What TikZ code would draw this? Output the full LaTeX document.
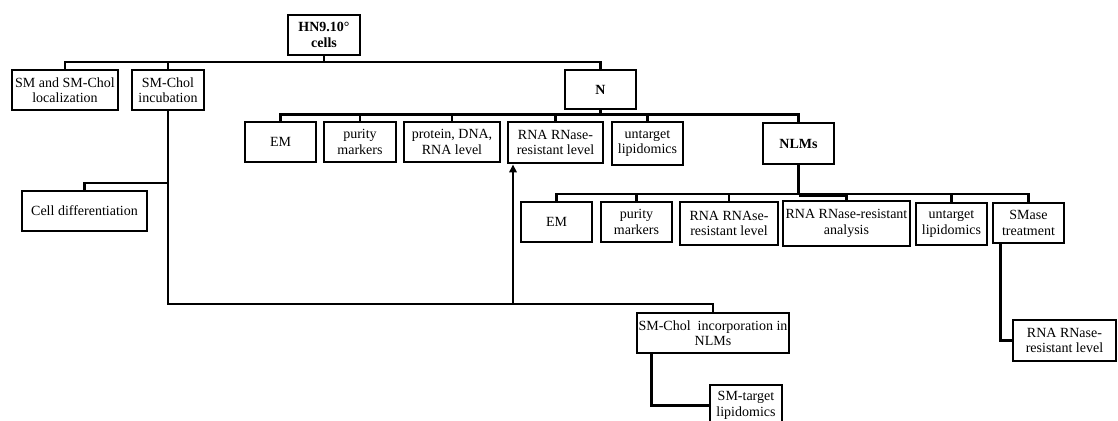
\documentclass[tikz,border=0pt]{standalone}
\usepackage{fontspec}
\setmainfont{Liberation Serif}
\usetikzlibrary{arrows.meta}
\begin{document}
\begin{tikzpicture}[x=0.75pt,y=-0.75pt,
  box/.style={draw, line width=2.1pt, align=center, inner sep=0pt, fill=white,
    font=\fontsize{10.5}{11.5}\selectfont},
  bbox/.style={box, font=\fontsize{10.5}{11.5}\selectfont\bfseries},
  conn/.style={line width=1.7pt},
]
\useasboundingbox (0,0) rectangle (1118,421);

% level 0
\node[bbox, minimum width=54pt, minimum height=30pt] (hn) at (324,35) {HN9.10°\\cells};
% level 1
\node[box, minimum width=79.5pt, minimum height=30pt] (loc) at (65,90) {SM and SM-Chol\\localization};
\node[box, minimum width=54pt, minimum height=30pt] (inc) at (168,90) {SM-Chol\\incubation};
\node[bbox, minimum width=53.25pt, minimum height=29.25pt] (N) at (600.5,89.5) {N};
% children of N
\node[box, minimum width=53.25pt, minimum height=30pt] (em1) at (280.5,142) {EM};
\node[box, minimum width=54pt, minimum height=30pt] (pur1) at (360,142) {purity\\markers};
\node[box, minimum width=72pt, minimum height=30pt] (prot) at (452,142) {protein, DNA,\\RNA level};
\node[box, minimum width=71.25pt, minimum height=30.75pt] (rna1) at (555.5,142.5) {RNA RNase-\\resistant level};
\node[box, minimum width=53.25pt, minimum height=32.25pt] (unt1) at (647.5,143.5) {untarget\\lipidomics};
\node[bbox, minimum width=53.25pt, minimum height=30.75pt] (nlm) at (798.5,143.5) {NLMs};
% cell differentiation
\node[box, minimum width=93.75pt, minimum height=30pt] (cd) at (84.5,211) {Cell differentiation};
% children of NLMs
\node[box, minimum width=53.25pt, minimum height=30pt] (em2) at (556.5,222) {EM};
\node[box, minimum width=53.25pt, minimum height=30pt] (pur2) at (636.5,222) {purity\\markers};
\node[box, minimum width=73.5pt, minimum height=32.25pt] (rna2) at (729,223.5) {RNA RNAse-\\resistant level};
\node[box, minimum width=95.25pt, minimum height=33.75pt] (rnaa) at (846.5,223.5) {RNA RNase-resistant\\analysis};
\node[box, minimum width=53.25pt, minimum height=31.5pt] (unt2) at (951.5,224) {untarget\\lipidomics};
\node[box, minimum width=53.25pt, minimum height=30pt] (smase) at (1028.5,223) {SMase\\treatment};
\node[box, minimum width=77.25pt, minimum height=30.75pt] (rna3) at (1064.5,340.5) {RNA RNase-\\resistant level};
% lower branch
\node[box, minimum width=114pt, minimum height=30pt] (inco) at (713,333) {SM-Chol\ \ incorporation in\\NLMs};
\node[box, minimum width=54pt, minimum height=30.75pt] (smt) at (746,405.5) {SM-target\\lipidomics};

% bus coordinates
\coordinate (b1) at (0,62);
\coordinate (b2) at (0,114.5);
\coordinate (b3) at (0,194);
\coordinate (b4) at (0,304);
\coordinate (b5) at (0,183);
\coordinate (ar) at (513,304);

% top level tree
\draw[conn] (hn.south) -- (hn.south|-b1);
\draw[conn] (loc.north) -- (loc.north|-b1) -| (N.north);
\draw[conn] (inc.north) -- (inc.north|-b1);

% N tree
\draw[conn] (N.south) -- (N.south|-b2);
\draw[conn] (em1.north) -- (em1.north|-b2) -| (nlm.north);
\draw[conn] (pur1.north) -- (pur1.north|-b2);
\draw[conn] (prot.north) -- (prot.north|-b2);
\draw[conn] (rna1.north) -- (rna1.north|-b2);
\draw[conn] (unt1.north) -- (unt1.north|-b2);

% NLMs tree
\draw[conn] (nlm.south) -- (nlm.south|-b3);
\draw[conn] (em2.north) -- (em2.north|-b3) -| (smase.north);
\draw[conn] (pur2.north) -- (pur2.north|-b3);
\draw[conn] (rna2.north) -- (rna2.north|-b3);
\draw[conn] (rnaa.north) -- (rnaa.north|-b3);
\draw[conn] (unt2.north) -- (unt2.north|-b3);
\draw[line width=2.6pt] ([yshift=-0.6pt]nlm.south|-b3) -- ([yshift=-0.6pt]rnaa.north|-b3);

% incubation branch
\draw[conn] (inc.south) -- (inc.south|-b4) -| (inco.north);
\draw[conn] (inc.south|-b5) -| (cd.north);
\draw[conn, -{Triangle[length=6pt,width=5.5pt]}] (ar) -- (ar|-rna1.south);
\draw[conn] ([xshift=12pt]inco.south west) |- (smt.west);
\draw[conn] ([xshift=6.75pt]smase.south west) |- (rna3.west);
\end{tikzpicture}
\end{document}
